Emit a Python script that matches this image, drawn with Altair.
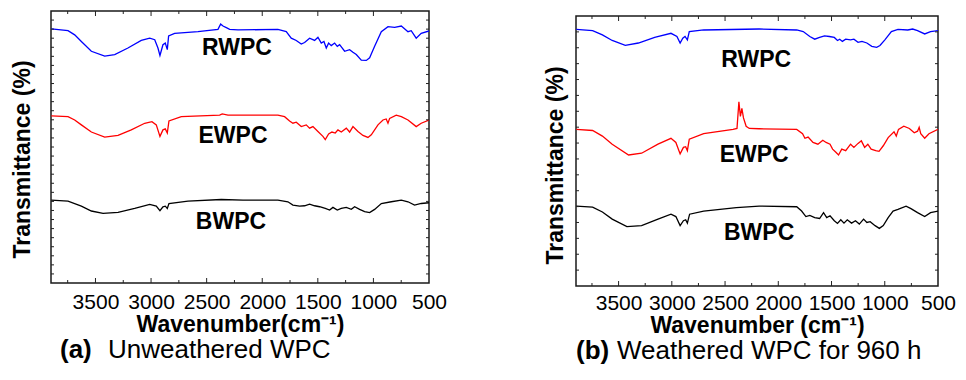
import altair as alt
import pandas as pd

FONT = "Liberation Sans, Arial, sans-serif"

SERIES = ["RWPC", "EWPC", "BWPC"]
COLORS = ["#0000ff", "#ff0000", "#000000"]

X_DOMAIN = [500, 3900]
X_LABELS = [3500, 3000, 2500, 2000, 1500, 1000, 500]
X_MAJOR = [3500, 3000, 2500, 2000, 1500, 1000]
X_MINOR = [3750, 3250, 2750, 2250, 1750, 1250, 750]

A_YDOMAIN = [0, 300]
A_YTICKS = [10, 20, 30, 40, 50, 60, 70, 80, 90, 100, 110, 120, 130, 140, 150,
            160, 170, 180, 190, 200, 210, 220, 230, 240, 250, 260, 270, 280, 290]
B_YDOMAIN = [0, 170]
B_YTICKS = [10, 20, 30, 40, 50, 60, 70, 80, 90, 100, 110, 120, 130, 140, 150, 160]

# (a) Unweathered WPC : (wavenumber cm-1, transmittance, arbitrary offset units)
A_RWPC = [(3897, 280.2), (3747, 278.3), (3687, 273.7), (3627, 266.4), (3537, 255.6),
          (3417, 250.2), (3327, 252.0), (3208, 259.2), (3088, 267.5), (3012, 270.0),
          (2967, 268.3), (2938, 259.2), (2920, 250.9), (2893, 262.8), (2872, 264.6),
          (2854, 257.4), (2842, 272.6), (2788, 275.4), (2578, 277.2), (2398, 279.7),
          (2374, 285.6), (2353, 283.4), (2323, 281.6), (2293, 279.7), (2218, 279.1),
          (1859, 279.7), (1784, 277.2), (1739, 270.0), (1694, 267.5), (1649, 263.5),
          (1619, 265.3), (1574, 270.0), (1529, 267.5), (1499, 271.1), (1469, 264.6),
          (1445, 266.4), (1424, 259.2), (1403, 264.6), (1379, 261.8), (1349, 264.6),
          (1325, 261.0), (1304, 262.8), (1259, 255.6), (1214, 257.4), (1184, 254.5),
          (1154, 252.0), (1109, 245.8), (1064, 245.5), (1034, 248.3), (989, 261.0),
          (929, 277.2), (869, 282.7), (809, 281.9), (749, 283.4), (689, 277.2),
          (660, 278.3), (615, 270.0), (570, 275.4), (500, 278.0)]
A_EWPC = [(3897, 184.4), (3747, 183.4), (3687, 179.8), (3627, 174.4), (3537, 166.5),
          (3417, 161.0), (3297, 162.8), (3178, 168.9), (3057, 176.2), (2992, 177.9),
          (2953, 174.4), (2920, 161.7), (2893, 168.9), (2872, 170.0), (2854, 165.4),
          (2839, 178.7), (2728, 183.4), (2383, 185.2), (2360, 186.6), (2308, 185.2),
          (2200, 185.2), (1859, 185.2), (1799, 183.4), (1754, 178.7), (1724, 176.2),
          (1694, 177.3), (1649, 172.5), (1604, 174.4), (1574, 170.8), (1544, 172.5),
          (1499, 167.1), (1454, 161.7), (1433, 158.1), (1403, 164.3), (1373, 166.5),
          (1343, 165.4), (1319, 168.9), (1289, 166.5), (1244, 170.8), (1214, 166.5),
          (1184, 172.5), (1139, 167.1), (1094, 162.8), (1049, 160.6), (1019, 163.5),
          (959, 174.4), (914, 179.8), (885, 180.9), (869, 176.2), (854, 181.6),
          (795, 185.2), (749, 183.4), (689, 179.8), (615, 172.5), (570, 176.2),
          (500, 179.8)]
A_BWPC = [(3897, 91.3), (3747, 90.2), (3627, 84.8), (3537, 79.4), (3432, 76.9),
          (3297, 78.0), (3147, 82.3), (3012, 86.6), (2953, 84.8), (2920, 79.8),
          (2893, 84.1), (2872, 84.8), (2854, 82.3), (2839, 87.7), (2668, 90.2),
          (2368, 92.1), (2173, 91.3), (1859, 91.3), (1769, 89.6), (1724, 85.9),
          (1664, 84.8), (1619, 85.2), (1574, 87.0), (1529, 85.2), (1484, 84.1),
          (1433, 82.3), (1394, 80.5), (1364, 83.4), (1325, 80.5), (1289, 82.3),
          (1244, 83.4), (1199, 81.2), (1169, 84.1), (1124, 81.2), (1079, 78.7),
          (1034, 77.7), (989, 81.2), (929, 87.7), (839, 89.6), (749, 91.3),
          (689, 89.6), (630, 85.9), (570, 87.7), (500, 88.5)]

# (b) Weathered WPC for 960 h
B_RWPC = [(3897, 161.6), (3744, 160.8), (3652, 158.1), (3560, 154.6), (3437, 151.5),
          (3314, 153.0), (3161, 156.6), (3008, 159.1), (2952, 157.1), (2922, 153.0),
          (2897, 156.0), (2876, 157.1), (2854, 155.0), (2836, 160.2), (2701, 161.2),
          (2180, 161.8), (1827, 161.2), (1766, 160.2), (1704, 157.1), (1658, 155.4),
          (1612, 156.6), (1566, 157.5), (1520, 157.1), (1474, 156.5), (1444, 154.6),
          (1423, 155.4), (1398, 154.0), (1367, 155.4), (1321, 155.0), (1290, 155.4),
          (1251, 153.4), (1214, 154.0), (1168, 153.0), (1122, 150.9), (1076, 150.3),
          (1045, 151.4), (999, 155.0), (938, 160.2), (876, 161.6), (784, 161.2),
          (738, 161.8), (692, 160.8), (625, 158.7), (570, 160.2), (500, 160.8)]
B_EWPC = [(3897, 98.6), (3744, 97.9), (3652, 94.4), (3560, 89.3), (3406, 82.5),
          (3284, 83.6), (3130, 89.3), (3008, 93.0), (2962, 90.4), (2922, 83.2),
          (2891, 87.3), (2870, 87.7), (2854, 85.2), (2836, 92.4), (2701, 95.9),
          (2425, 98.6), (2388, 99.2), (2370, 116.0), (2356, 106.8), (2342, 111.9),
          (2327, 105.8), (2302, 100.6), (2272, 99.2), (2180, 99.0), (1827, 98.6),
          (1772, 95.9), (1750, 93.0), (1720, 93.8), (1674, 90.4), (1628, 89.3),
          (1582, 91.8), (1551, 90.4), (1514, 89.3), (1490, 86.2), (1459, 84.2),
          (1434, 82.5), (1404, 86.2), (1367, 85.2), (1321, 89.3), (1290, 87.3),
          (1251, 89.8), (1220, 91.4), (1189, 87.3), (1159, 89.3), (1128, 86.2),
          (1085, 85.2), (1054, 84.8), (1014, 88.3), (968, 93.4), (913, 97.1),
          (892, 94.4), (871, 98.6), (821, 100.6), (769, 99.2), (723, 96.5),
          (692, 97.5), (677, 99.9), (662, 95.9), (625, 93.0), (585, 95.9), (500, 98.6)]
B_BWPC = [(3897, 50.3), (3744, 49.7), (3652, 46.6), (3560, 42.1), (3422, 37.4),
          (3284, 38.0), (3130, 42.1), (3008, 45.2), (2962, 43.7), (2922, 38.0),
          (2891, 41.1), (2870, 41.7), (2854, 39.6), (2833, 45.2), (2701, 47.2),
          (2394, 49.3), (2180, 50.3), (1827, 49.9), (1781, 47.2), (1741, 43.7),
          (1704, 44.5), (1658, 43.1), (1612, 42.5), (1575, 46.2), (1545, 43.1),
          (1514, 44.2), (1474, 41.1), (1444, 39.4), (1413, 41.7), (1383, 39.6),
          (1352, 41.7), (1312, 39.6), (1275, 41.1), (1239, 39.0), (1199, 42.1),
          (1168, 40.0), (1137, 40.5), (1091, 38.0), (1051, 36.3), (1014, 38.0),
          (968, 43.1), (922, 47.2), (876, 48.2), (800, 50.3), (754, 48.7),
          (692, 46.2), (625, 43.7), (570, 46.2), (500, 47.2)]

# curve labels (wavenumber, transmittance)
A_LABELS = [(2227, 258.8), (2263, 162.5), (2281, 67.1)]
B_LABELS = [(2207, 142.6), (2226, 82.2), (2180, 33.3)]


def panel(curves, labels, W, H, ydom, yticks, xtitle, ytx, yty, xty, lab_pad,
          sub_bold, sub_rest, sub_x1, sub_x2, sub_y):
    rows = []
    for name, pts in zip(SERIES, curves):
        for wn, t in pts:
            rows.append({"s": name, "wn": wn, "t": t})
    df = pd.DataFrame(rows)
    lab = pd.DataFrame({"s": SERIES, "wn": [p[0] for p in labels],
                        "t": [p[1] for p in labels]})

    xs = alt.Scale(domain=X_DOMAIN, reverse=True, nice=False, zero=False)
    ys = alt.Scale(domain=ydom, nice=False, zero=False)
    xaxis = alt.Axis(values=X_LABELS, format="d", ticks=False, tickSize=0, domain=False,
                     grid=False, labelFont=FONT, labelFontSize=21, labelColor="#000",
                     labelFlush=False, labelOverlap=False, labelBound=False,
                     labelBaseline="alphabetic", labelPadding=lab_pad,
                     title=xtitle, titleFont=FONT, titleFontSize=23,
                     titleFontWeight="bold", titleColor="#000",
                     titleBaseline="alphabetic", titleY=xty, titleX=W / 2,
                     titleAlign="center")
    yaxis = alt.Axis(labels=False, ticks=False, domain=False, grid=False,
                     title="Transmittance (%)", titleFont=FONT, titleFontSize=23,
                     titleFontWeight="bold", titleColor="#000", titleX=ytx,
                     titleY=yty, titleBaseline="middle", titleAlign="center")

    def X(f):
        return alt.X(f, scale=xs, axis=xaxis)

    def Y(f):
        return alt.Y(f, scale=ys, axis=yaxis)

    lines = alt.Chart(df).mark_line(strokeWidth=1.3, clip=True).encode(
        x=X("wn:Q"), y=Y("t:Q"),
        color=alt.Color("s:N", scale=alt.Scale(domain=SERIES, range=COLORS), legend=None),
    )
    texts = alt.Chart(lab).mark_text(font=FONT, fontSize=23, fontWeight="bold",
                                     color="#000", align="center",
                                     baseline="middle").encode(
        x=X("wn:Q"), y=Y("t:Q"), text="s:N")

    tc = "#222222"
    xmaj = pd.DataFrame({"v": X_MAJOR})
    xmin = pd.DataFrame({"v": X_MINOR})
    ytk = pd.DataFrame({"v": yticks})
    bmaj = alt.Chart(xmaj).mark_rule(color=tc, strokeWidth=1).encode(
        x=X("v:Q"), y=alt.value(H), y2=alt.value(H - 5))
    bmin = alt.Chart(xmin).mark_rule(color=tc, strokeWidth=1).encode(
        x=X("v:Q"), y=alt.value(H), y2=alt.value(H - 3))
    tmaj = alt.Chart(xmaj).mark_rule(color=tc, strokeWidth=1).encode(
        x=X("v:Q"), y=alt.value(0), y2=alt.value(5))
    tmin = alt.Chart(xmin).mark_rule(color=tc, strokeWidth=1).encode(
        x=X("v:Q"), y=alt.value(0), y2=alt.value(3))
    lt = alt.Chart(ytk).mark_rule(color=tc, strokeWidth=1).encode(
        y=Y("v:Q"), x=alt.value(0), x2=alt.value(3))
    rt = alt.Chart(ytk).mark_rule(color=tc, strokeWidth=1).encode(
        y=Y("v:Q"), x=alt.value(W), x2=alt.value(W - 3))

    s1 = alt.Chart(pd.DataFrame({"s": [sub_bold]})).mark_text(
        font=FONT, fontSize=26, fontWeight="bold", color="#000", align="left",
        baseline="middle").encode(x=alt.value(sub_x1), y=alt.value(sub_y), text="s:N")
    s2 = alt.Chart(pd.DataFrame({"s": [sub_rest]})).mark_text(
        font=FONT, fontSize=26, color="#000", align="left",
        baseline="middle").encode(x=alt.value(sub_x2), y=alt.value(sub_y), text="s:N")

    return alt.layer(lines, texts, bmaj, bmin, tmaj, tmin, lt, rt, s1, s2).properties(
        width=W, height=H)


pa = panel([A_RWPC, A_EWPC, A_BWPC], A_LABELS, 378, 272, A_YDOMAIN, A_YTICKS,
           "Wavenumber(cm⁻¹)", -29, 148, 48, 25,
           "(a)", "Unweathered WPC", 9, 57, 339)
pb = panel([B_RWPC, B_EWPC, B_BWPC], B_LABELS, 362, 270, B_YDOMAIN, B_YTICKS,
           "Wavenumber (cm⁻¹)", -21, 149, 46, 23,
           "(b)", "Weathered WPC for 960 h", 0, 41, 335)

# invisible 1px spacer that lowers panel (b) by a few pixels
spacer = alt.Chart(pd.DataFrame({"z": [0]})).mark_rule(opacity=0).encode(
    x=alt.value(0), x2=alt.value(1), y=alt.value(0)
).properties(width=362, height=1, view=alt.ViewBackground(strokeOpacity=0))

chart = alt.hconcat(pa, alt.vconcat(spacer, pb, spacing=2), spacing=95).properties(
    padding={"left": 2, "top": 1, "right": 0, "bottom": 0}
).configure_view(stroke="#1a1a1a", strokeWidth=1.5)

chart.save("out.html", embed_options={"renderer": "svg", "actions": False})
